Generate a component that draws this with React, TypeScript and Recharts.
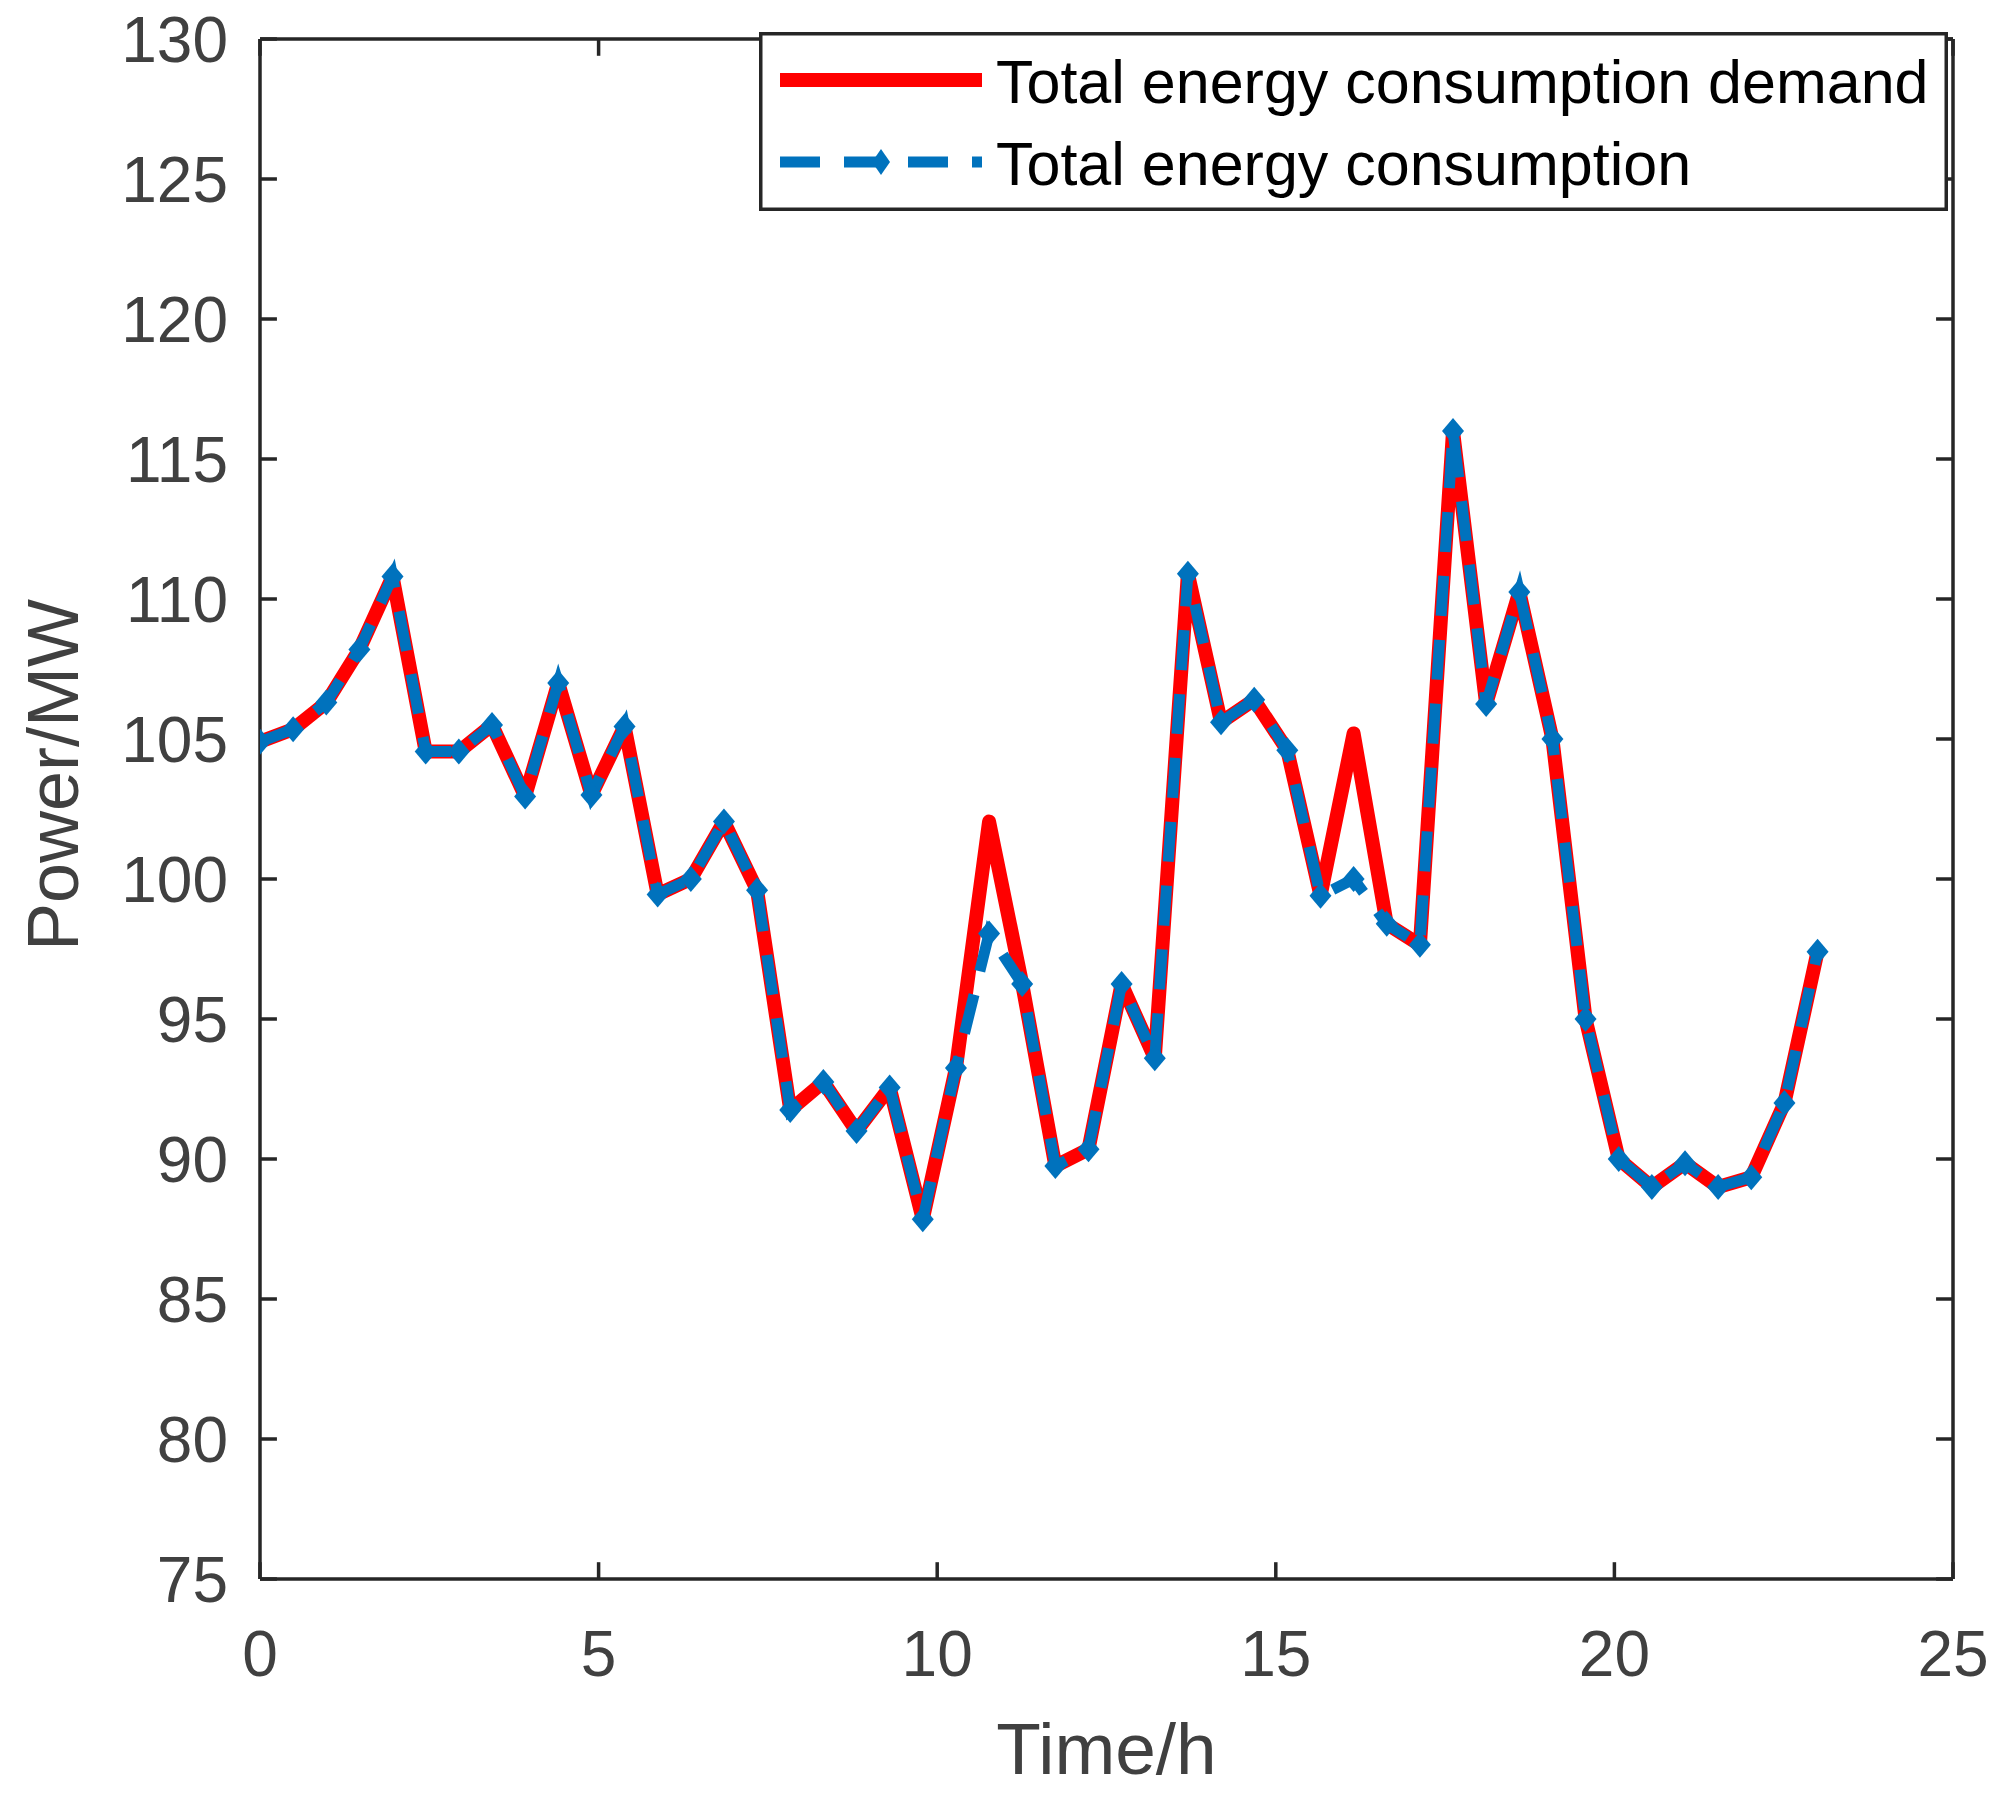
import { LineChart, Line, XAxis, YAxis, Legend, ReferenceLine } from 'recharts';

// half-hourly samples, 48 points spread over 0..23 h
const times = [
  0, 0.489, 0.979, 1.468, 1.957, 2.447, 2.936, 3.426, 3.915, 4.404, 4.894, 5.383,
  5.872, 6.362, 6.851, 7.34, 7.83, 8.319, 8.809, 9.298, 9.787, 10.277, 10.766, 11.255,
  11.745, 12.234, 12.723, 13.213, 13.702, 14.191, 14.681, 15.17, 15.66, 16.149, 16.638, 17.128,
  17.617, 18.106, 18.596, 19.085, 19.574, 20.064, 20.553, 21.043, 21.532, 22.021, 22.511, 23,
];

const demand = [
  104.9, 105.35, 106.3, 108.2, 110.8, 104.55, 104.55, 105.5, 102.95, 107.0, 103.0, 105.45,
  99.45, 100.0, 102.05, 99.6, 91.75, 92.75, 91.0, 92.55, 87.85, 93.25, 102.05, 96.25,
  89.75, 90.35, 96.25, 93.6, 110.9, 105.6, 106.4, 104.6, 99.4, 105.2, 98.4, 97.65,
  116.0, 106.25, 110.25, 105.0, 95.0, 90.0, 89.0, 89.85, 89.0, 89.35, 92.0, 97.4,
];

const consumption = [
  104.9, 105.35, 106.3, 108.2, 110.8, 104.55, 104.55, 105.5, 102.95, 107.0, 103.0, 105.45,
  99.45, 100.0, 102.05, 99.6, 91.75, 92.75, 91.0, 92.55, 87.85, 93.25, 98.05, 96.25,
  89.75, 90.35, 96.25, 93.6, 110.9, 105.6, 106.4, 104.6, 99.4, 100.0, 98.4, 97.65,
  116.0, 106.25, 110.25, 105.0, 95.0, 90.0, 89.0, 89.85, 89.0, 89.35, 92.0, 97.4,
];

const xTicks = [0, 5, 10, 15, 20, 25];
const yTicks = [75, 80, 85, 90, 95, 100, 105, 110, 115, 120, 125, 130];
const xDomain = [0, 25];
const yDomain = [75, 130];

const data = times.map((t, i) => ({ t, demand: demand[i], consumption: consumption[i] }));

const FONT = '"Liberation Sans", Arial, Helvetica, sans-serif';
const AXIS = '#262626';
const TEXT = '#404040';
const RED = '#ff0000';
const BLUE = '#0072bd';
const AXIS_W = 3.5;
// inward tick length, in axis units (about 17px each way)
const X_TICK_LEN = 0.25;
const Y_TICK_LEN = 0.6;

// eslint-disable-next-line @typescript-eslint/no-explicit-any
function BottomTick({ x, y, payload }: any) {
  return (
    <text x={x} y={y + 97} textAnchor="middle" fontSize={64} fill={TEXT} fontFamily={FONT}>
      {payload.value}
    </text>
  );
}

// eslint-disable-next-line @typescript-eslint/no-explicit-any
function LeftTick({ x, y, payload }: any) {
  return (
    <text x={x - 32} y={y} dy="0.36em" textAnchor="end" fontSize={64} fill={TEXT} fontFamily={FONT}>
      {payload.value}
    </text>
  );
}

function NoTick() {
  return <g />;
}

// eslint-disable-next-line @typescript-eslint/no-explicit-any
function Diamond({ cx, cy, index }: any) {
  if (cx == null || cy == null) return null;
  return (
    <polygon
      key={index}
      points={`${cx},${cy - 13} ${cx + 11},${cy} ${cx},${cy + 13} ${cx - 11},${cy}`}
      fill={BLUE}
    />
  );
}

// eslint-disable-next-line @typescript-eslint/no-explicit-any
function XLabel({ viewBox }: any) {
  const { x, y, width } = viewBox;
  return (
    <text x={x + width / 2} y={y + 195} textAnchor="middle" fontSize={73} fill={TEXT} fontFamily={FONT}>
      Time/h
    </text>
  );
}

// eslint-disable-next-line @typescript-eslint/no-explicit-any
function YLabel({ viewBox }: any) {
  const { y, height } = viewBox;
  const cx = 52;
  const cy = y + height / 2 - 34;
  return (
    <text
      x={cx}
      y={cy}
      dy="0.36em"
      transform={`rotate(-90 ${cx} ${cy})`}
      textAnchor="middle"
      fontSize={72}
      fill={TEXT}
      fontFamily={FONT}
    >
      Power/MW
    </text>
  );
}

// eslint-disable-next-line @typescript-eslint/no-explicit-any
function LegendBox({ payload }: any) {
  const names: Record<string, string> = {};
  (payload || []).forEach((p: { dataKey: string; value: string }) => { names[p.dataKey] = p.value; });
  return (
    <svg width={1189} height={179} style={{ display: 'block' }}>
      <rect x={1.75} y={1.75} width={1185.5} height={175.5} fill="#fff" stroke={AXIS} strokeWidth={AXIS_W} />
      <line x1={21} y1={48} x2={223} y2={48} stroke={RED} strokeWidth={14} />
      <text x={237} y={71} fontSize={61} fill="#000" fontFamily={FONT}>{names.demand}</text>
      <line x1={21} y1={130} x2={223} y2={130} stroke={BLUE} strokeWidth={11} strokeDasharray="40 24" />
      <polygon points="122,117 131,130 122,143 113,130" fill={BLUE} />
      <text x={237} y={153} fontSize={61} fill="#000" fontFamily={FONT}>{names.consumption}</text>
    </svg>
  );
}

export default function App() {
  const tickStyle = { stroke: AXIS, strokeWidth: AXIS_W };
  return (
    <div style={{ width: 2003, height: 1796, background: '#fff' }}>
      <style>{'body{margin:0}'}</style>
      <LineChart width={2003} height={1796} data={data} margin={{ top: 39, right: 50, left: 0, bottom: 0 }}>
        <XAxis
          xAxisId="b"
          dataKey="t"
          type="number"
          domain={xDomain}
          ticks={xTicks}
          allowDataOverflow
          height={217}
          tickSize={0}
          tickMargin={0}
          tickLine={false}
          axisLine={tickStyle}
          tick={<BottomTick />}
          label={<XLabel />}
        />
        <XAxis
          xAxisId="t"
          orientation="top"
          dataKey="t"
          type="number"
          domain={xDomain}
          ticks={xTicks}
          allowDataOverflow
          height={0}
          tickSize={0}
          tickMargin={0}
          tickLine={false}
          tick={<NoTick />}
          axisLine={tickStyle}
        />
        <YAxis
          yAxisId="l"
          type="number"
          domain={yDomain}
          ticks={yTicks}
          allowDataOverflow
          width={260}
          tickSize={0}
          tickMargin={0}
          tickLine={false}
          axisLine={tickStyle}
          tick={<LeftTick />}
          label={<YLabel />}
        />
        <YAxis
          yAxisId="r"
          orientation="right"
          type="number"
          domain={yDomain}
          ticks={yTicks}
          allowDataOverflow
          width={0}
          tickSize={0}
          tickMargin={0}
          tickLine={false}
          tick={<NoTick />}
          axisLine={tickStyle}
        />
        {xTicks.map(v => (
          <ReferenceLine
            key={`xb${v}`}
            xAxisId="b"
            yAxisId="l"
            segment={[{ x: v, y: yDomain[0] }, { x: v, y: yDomain[0] + Y_TICK_LEN }]}
            {...tickStyle}
          />
        ))}
        {xTicks.map(v => (
          <ReferenceLine
            key={`xt${v}`}
            xAxisId="b"
            yAxisId="l"
            segment={[{ x: v, y: yDomain[1] }, { x: v, y: yDomain[1] - Y_TICK_LEN }]}
            {...tickStyle}
          />
        ))}
        {yTicks.map(v => (
          <ReferenceLine
            key={`yl${v}`}
            xAxisId="b"
            yAxisId="l"
            segment={[{ x: xDomain[0], y: v }, { x: xDomain[0] + X_TICK_LEN, y: v }]}
            {...tickStyle}
          />
        ))}
        {yTicks.map(v => (
          <ReferenceLine
            key={`yr${v}`}
            xAxisId="b"
            yAxisId="l"
            segment={[{ x: xDomain[1], y: v }, { x: xDomain[1] - X_TICK_LEN, y: v }]}
            {...tickStyle}
          />
        ))}
        {/* box edges along the top and right */}
        <ReferenceLine xAxisId="b" yAxisId="l" y={yDomain[1]} {...tickStyle} />
        <ReferenceLine xAxisId="b" yAxisId="l" x={xDomain[1]} {...tickStyle} />
        <Legend
          verticalAlign="middle"
          align="center"
          layout="horizontal"
          content={<LegendBox />}
          wrapperStyle={{ left: 759, top: 32, width: 1189, height: 179, margin: 0 }}
        />
        <Line
          xAxisId="b"
          yAxisId="l"
          type="linear"
          dataKey="demand"
          name="Total energy consumption demand"
          stroke={RED}
          strokeWidth={14}
          strokeLinejoin="round"
          dot={false}
          activeDot={false}
          isAnimationActive={false}
        />
        <Line
          xAxisId="b"
          yAxisId="l"
          type="linear"
          dataKey="consumption"
          name="Total energy consumption"
          stroke={BLUE}
          strokeWidth={11}
          strokeDasharray="40 24"
          dot={<Diamond />}
          activeDot={false}
          isAnimationActive={false}
        />
      </LineChart>
    </div>
  );
}
